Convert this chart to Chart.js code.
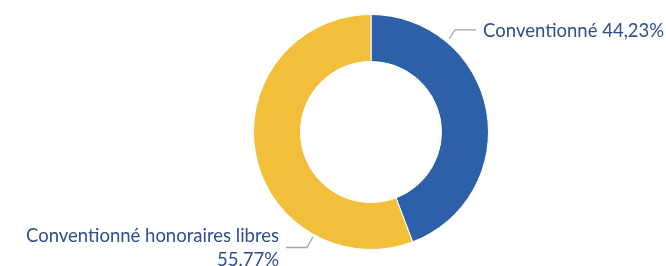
<!DOCTYPE html>
<html>
<head>
<meta charset="utf-8">
<script src="https://cdn.jsdelivr.net/npm/chart.js@4"></script>
<style>
  html, body { margin: 0; padding: 0; background: #fff; }
  #wrap { width: 666px; height: 266px; }
</style>
</head>
<body>
<div id="wrap"><canvas id="c" width="666" height="266"></canvas></div>
<script>
const categories = ['Conventionné', 'Conventionné honoraires libres']
const shares = [44.23, 55.77]
const labelText = [['Conventionné 44,23%'], ['Conventionné honoraires libres', '55.77%']]
const colors = ['#2c60a9', '#f2bf3b']

// leader lines + labels, placed from the arc geometry
const leaderLabels = {
  id: 'leaderLabels',
  afterDraw(chart) {
    const ctx = chart.ctx
    const arc = chart.getDatasetMeta(0).data[0]
    const cx = arc.x, cy = arc.y, R = arc.outerRadius
    const pt = (deg, r) => [cx + r * Math.sin(deg * Math.PI / 180), cy - r * Math.cos(deg * Math.PI / 180)]

    ctx.save()
    ctx.strokeStyle = '#a6a6a6'
    ctx.lineWidth = 1.3
    ctx.fillStyle = '#2d4f8e'
    ctx.font = '18.5px Lato'
    ctx.textBaseline = 'middle'

    // blue slice label
    let s = pt(40, R + 4)
    ctx.beginPath()
    ctx.moveTo(s[0], s[1])
    ctx.lineTo(s[0] + 6, s[1] - 9)
    ctx.lineTo(s[0] + 27, s[1] - 9)
    ctx.stroke()
    ctx.textAlign = 'left'
    ctx.fillText(labelText[0][0], s[0] + 34, s[1] - 8)

    // yellow slice label
    s = pt(209, R + 2)
    ctx.beginPath()
    ctx.moveTo(s[0], s[1])
    ctx.lineTo(s[0] - 6, s[1] + 11)
    ctx.lineTo(s[0] - 27, s[1] + 11)
    ctx.stroke()
    ctx.textAlign = 'right'
    ctx.fillText(labelText[1][0], s[0] - 34, s[1])
    ctx.fillText(labelText[1][1], s[0] - 34, s[1] + 24)
    ctx.restore()
  }
}

new Chart(document.getElementById('c'), {
  type: 'doughnut',
  data: {
    labels: categories,
    datasets: [{
      data: shares,
      backgroundColor: colors,
      borderColor: '#ffffff',
      borderWidth: 1
    }]
  },
  options: {
    responsive: false,
    animation: false,
    cutout: '60%',
    layout: { padding: { left: 253, right: 177, top: 14, bottom: 16 } },
    plugins: {
      legend: { display: false },
      tooltip: { enabled: false }
    }
  },
  plugins: [leaderLabels]
})
</script>
</body>
</html>
